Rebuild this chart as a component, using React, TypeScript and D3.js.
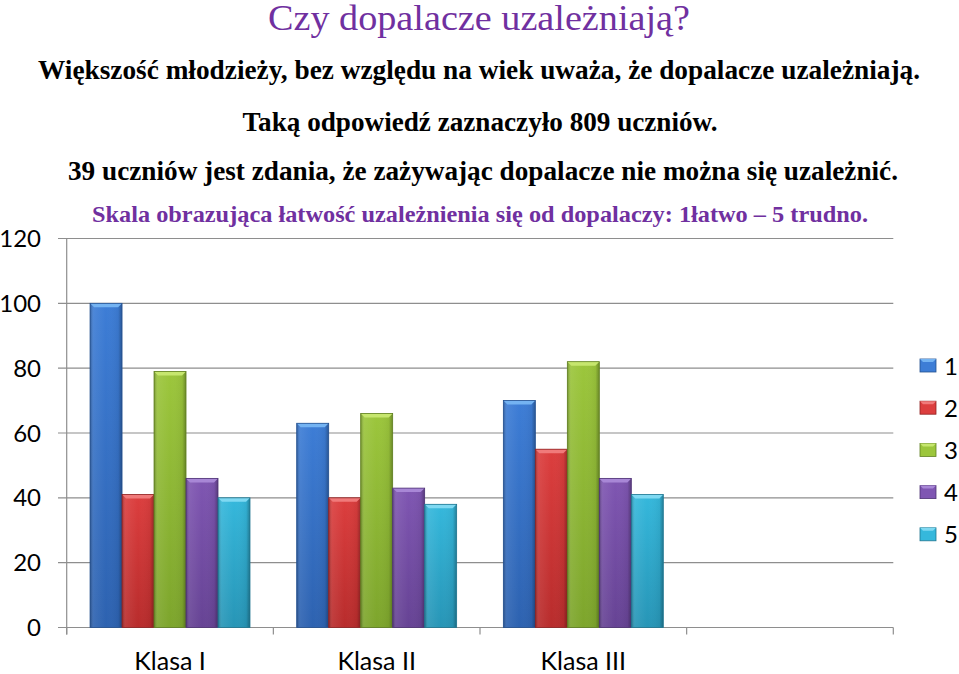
import React from "react";
import * as d3 from "d3";

const categories = ["Klasa I", "Klasa II", "Klasa III", ""];
const seriesNames = ["1", "2", "3", "4", "5"];
const series1 = [100, 63, 70];
const series2 = [41, 40, 55];
const series3 = [79, 66, 82];
const series4 = [46, 43, 46];
const series5 = [40, 38, 41];
const yTicks = [0, 20, 40, 60, 80, 100, 120];

const titleText = "Czy dopalacze uzależniają?";
const line2 = "Większość młodzieży, bez względu na wiek uważa, że dopalacze uzależniają.";
const line3 = "Taką odpowiedź zaznaczyło 809 uczniów.";
const line4 = "39 uczniów jest zdania, że zażywając dopalacze nie można się uzależnić.";
const line5 = "Skala obrazująca łatwość uzależnienia się od dopalaczy: 1łatwo – 5 trudno.";

const seriesValues = [series1, series2, series3, series4, series5];
const colors = [
  { top: "#74b3f2", mid: "#3d7dd6", bot: "#2d62b0", edge: "#24508f" },
  { top: "#f07a7a", mid: "#dc3e3e", bot: "#b82c2c", edge: "#8f2222" },
  { top: "#c6e66e", mid: "#9cc63c", bot: "#7da52c", edge: "#5f7f20" },
  { top: "#a887d6", mid: "#7f56b2", bot: "#664394", edge: "#4e3274" },
  { top: "#7fd9f2", mid: "#35b8dc", bot: "#2795b6", edge: "#1f7590" },
];

export default function App() {
  const W = 959;
  const H = 674;
  const y = d3.scaleLinear().domain([0, 120]).range([627.5, 238.5]);
  const x0 = d3.scaleBand<string>().domain(categories).range([66.7, 893.3]).padding(0);
  const x1 = d3
    .scaleBand<string>()
    .domain(seriesNames)
    .range([0, x0.bandwidth()])
    .paddingInner(0)
    .paddingOuter(0.73);
  const bw = x1.bandwidth();
  const boundaries = [...categories.map((c) => x0(c) as number), 893.3];
  const serif = "'Liberation Serif', 'Times New Roman', serif";
  const sans = "Lato, 'Open Sans', sans-serif";

  return (
    <svg
      width={W}
      height={H}
      style={{ position: "absolute", left: 0, top: 0, background: "#fff" }}
    >
      <defs>
        {colors.map((c, i) => (
          <linearGradient key={"v" + i} id={"gv" + i} x1="0" y1="0" x2="0" y2="1">
            <stop offset="0" stopColor={c.mid} />
            <stop offset="1" stopColor={c.bot} />
          </linearGradient>
        ))}
        <linearGradient id="gh" x1="0" y1="0" x2="1" y2="0">
          <stop offset="0" stopColor="#000" stopOpacity="0.28" />
          <stop offset="0.12" stopColor="#fff" stopOpacity="0.08" />
          <stop offset="0.5" stopColor="#fff" stopOpacity="0" />
          <stop offset="0.88" stopColor="#000" stopOpacity="0.05" />
          <stop offset="1" stopColor="#000" stopOpacity="0.3" />
        </linearGradient>
      </defs>

      <text x={479} y={30} textAnchor="middle" fontFamily={serif} fontSize={35} fill="#7030a0" textLength={422} lengthAdjust="spacingAndGlyphs">
        {titleText}
      </text>
      <text x={479} y={79} textAnchor="middle" fontFamily={serif} fontSize={27} fontWeight="bold" fill="#000" textLength={882} lengthAdjust="spacingAndGlyphs">
        {line2}
      </text>
      <text x={480} y={131} textAnchor="middle" fontFamily={serif} fontSize={27} fontWeight="bold" fill="#000" textLength={475} lengthAdjust="spacingAndGlyphs">
        {line3}
      </text>
      <text x={483} y={180} textAnchor="middle" fontFamily={serif} fontSize={27} fontWeight="bold" fill="#000" textLength={830} lengthAdjust="spacingAndGlyphs">
        {line4}
      </text>
      <text x={480} y={222} textAnchor="middle" fontFamily={serif} fontSize={24} fontWeight="bold" fill="#7030a0" textLength={776} lengthAdjust="spacingAndGlyphs">
        {line5}
      </text>

      {/* gridlines */}
      {yTicks.map((t) => (
        <line key={"g" + t} x1={58} x2={893.3} y1={y(t)} y2={y(t)} stroke="#8e8e8e" strokeWidth={1.2} />
      ))}
      {/* y axis */}
      <line x1={66.7} x2={66.7} y1={y(120)} y2={y(0) + 7} stroke="#8e8e8e" strokeWidth={1.2} />
      {boundaries.map((b, i) => (
        <line key={"t" + i} x1={b} x2={b} y1={y(0)} y2={y(0) + 7} stroke="#8e8e8e" strokeWidth={1.2} />
      ))}
      {yTicks.map((t) => (
        <text key={"yl" + t} x={41} y={y(t)} dy="0.36em" textAnchor="end" fontFamily={sans} fontSize={24} fill="#000">
          {t}
        </text>
      ))}
      {categories.map((c) => (
        <text key={"xl" + c} x={(x0(c) as number) + x0.bandwidth() / 2} y={670} textAnchor="middle" fontFamily={sans} fontSize={25} fill="#000">
          {c}
        </text>
      ))}

      {/* bars */}
      {seriesValues.map((vals, si) =>
        vals.map((v, ci) => {
          const bx = (x0(categories[ci]) as number) + (x1(seriesNames[si]) as number);
          const by = y(v);
          const bh = y(0) - by;
          const c = colors[si];
          const bev = 4;
          return (
            <g key={"b" + si + "-" + ci}>
              <rect x={bx} y={by} width={bw} height={bh} fill={`url(#gv${si})`} />
              <rect x={bx} y={by} width={bw} height={bh} fill="url(#gh)" />
              <polygon
                points={`${bx},${by} ${bx + bw},${by} ${bx + bw - bev},${by + bev} ${bx + bev},${by + bev}`}
                fill={c.top}
              />
              <rect x={bx} y={by} width={bw} height={bh} fill="none" stroke={c.edge} strokeWidth={0.8} />
            </g>
          );
        })
      )}

      {/* legend */}
      {seriesNames.map((s, i) => {
        const cy = 366 + i * 42.2;
        const c = colors[i];
        return (
          <g key={"lg" + s}>
            <rect x={920} y={cy - 7} width={16} height={13} fill={c.mid} stroke={c.edge} strokeWidth={0.8} />
            <polygon points={`920,${cy - 7} 936,${cy - 7} 933,${cy - 4} 923,${cy - 4}`} fill={c.top} />
            <text x={944} y={cy} dy="0.36em" fontFamily={sans} fontSize={24} fill="#000">
              {s}
            </text>
          </g>
        );
      })}
    </svg>
  );
}
